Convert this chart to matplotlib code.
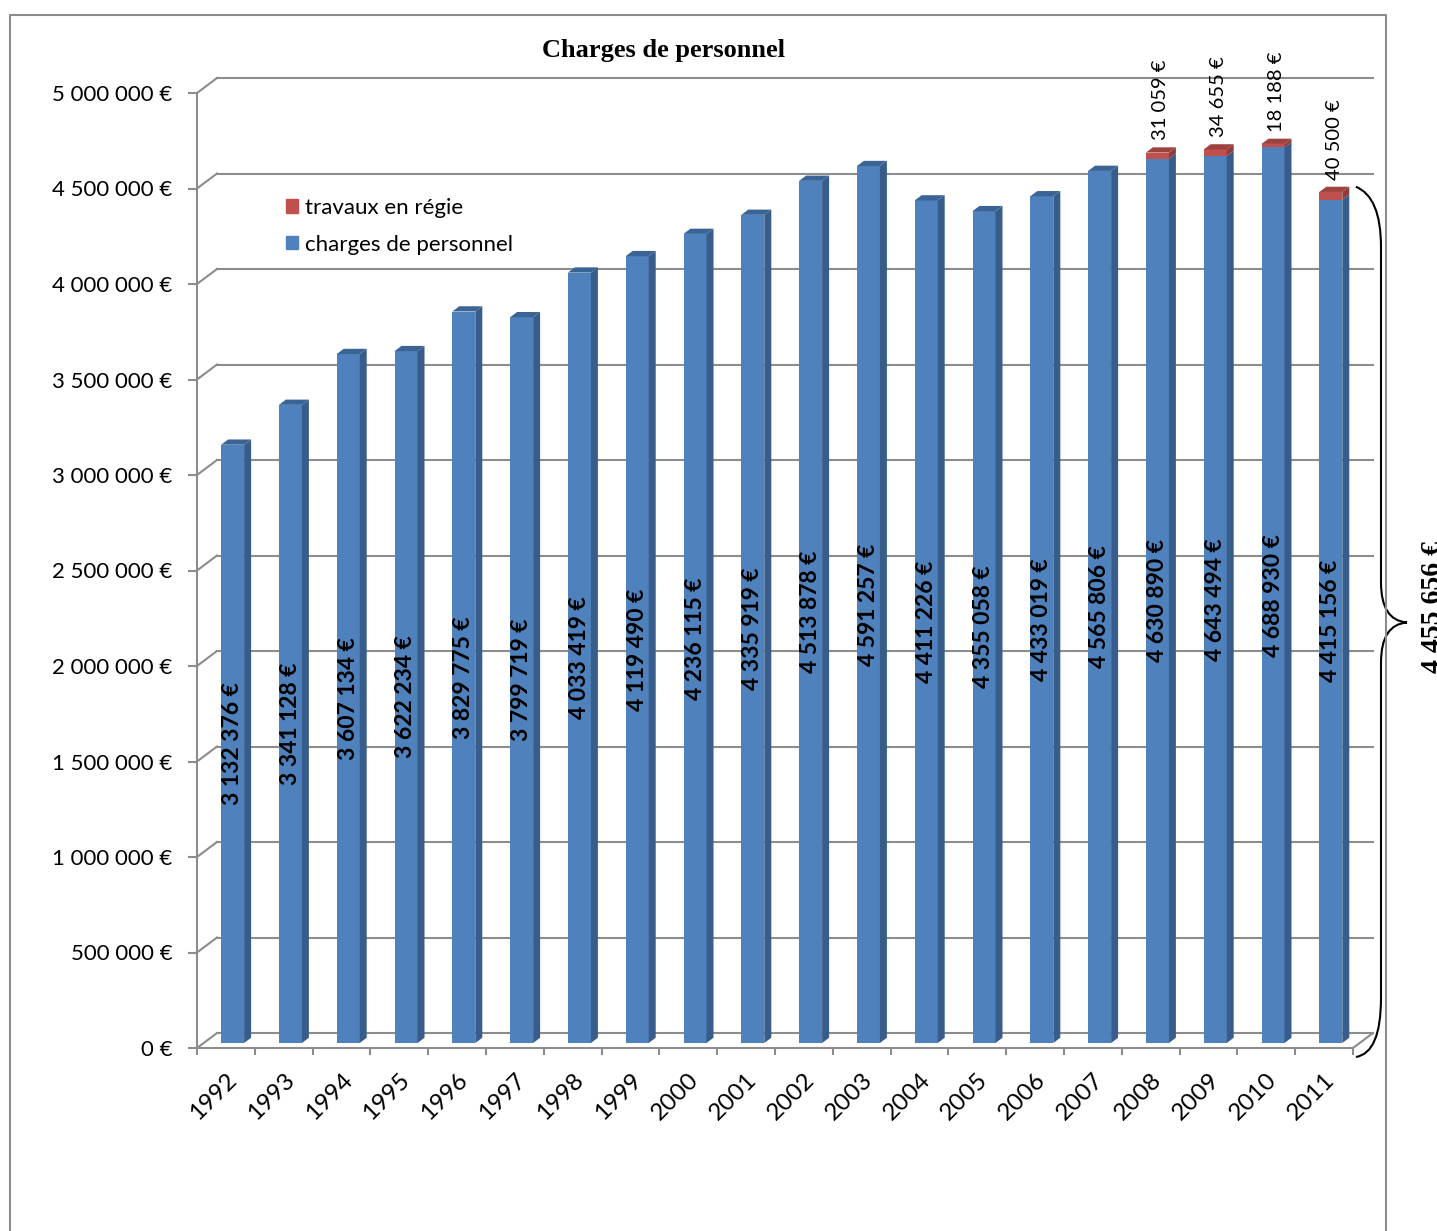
import numpy as np
import matplotlib
matplotlib.use("Agg")
import matplotlib.pyplot as plt
from matplotlib.patches import Polygon, Patch
from matplotlib.path import Path
from matplotlib.patches import PathPatch
from matplotlib.ticker import FuncFormatter

years = ["1992", "1993", "1994", "1995", "1996", "1997", "1998", "1999", "2000", "2001",
         "2002", "2003", "2004", "2005", "2006", "2007", "2008", "2009", "2010", "2011"]
charges = [3132376, 3341128, 3607134, 3622234, 3829775, 3799719, 4033419, 4119490, 4236115, 4335919,
           4513878, 4591257, 4411226, 4355058, 4433019, 4565806, 4630890, 4643494, 4688930, 4415156]
travaux = [0, 0, 0, 0, 0, 0, 0, 0, 0, 0,
           0, 0, 0, 0, 0, 0, 31059, 34655, 18188, 40500]

plt.rcParams['font.family'] = ['Lato', 'DejaVu Sans']

def euro(v):
    return f"{int(v):,}".replace(",", " ") + " €"

W, H = 1437, 1231
fig = plt.figure(figsize=(W / 100, H / 100), dpi=100)
ax = fig.add_axes([197 / W, (H - 1048) / H, 1156 / W, 955 / H])
n = len(years)
ax.set_xlim(-0.5, n - 0.5)
ax.set_ylim(0, 5e6)

# pixel -> data units
ux = n / 1156
uy = 5e6 / 955

grey = '#8c8c8c'
blue, blue_side, blue_top = '#4f81bd', '#385d8a', '#3b6496'
red, red_side, red_top = '#c0504d', '#8f3b39', '#9e4240'

# back wall grid (3d look)
bx, by = 20 * ux, 15 * uy
for v in np.arange(0, 5e6 + 1, 5e5):
    ax.plot([-0.5, -0.5 + bx], [v, v + by], color=grey, lw=1.5, clip_on=False, zorder=1)
    ax.plot([-0.5 + bx, n - 0.5 + bx], [v + by, v + by], color=grey, lw=1.5, clip_on=False, zorder=1)
ax.plot([n - 0.5, n - 0.5 + bx], [0, by], color=grey, lw=1.5, clip_on=False, zorder=1)

# bars
fx, fy = 6.7 * ux, 5 * uy
dx, dy = 7 * ux, 5.25 * uy
bw = 23 * ux
x = np.arange(n)
for i in range(n):
    segs = [(0, charges[i], blue, blue_side, blue_top)]
    if travaux[i] > 0:
        segs.append((charges[i], charges[i] + travaux[i], red, red_side, red_top))
    for k, (b, t, cf, cs, ct) in enumerate(segs):
        ax.bar(x[i] + fx, t - b, bottom=b + fy, width=bw, color=cf, zorder=3, clip_on=False)
        xr = x[i] + fx + bw / 2
        ax.add_patch(Polygon([(xr, b + fy), (xr + dx, b + fy + dy), (xr + dx, t + fy + dy), (xr, t + fy)],
                             closed=True, facecolor=cs, edgecolor='none', zorder=3, clip_on=False))
        if k == len(segs) - 1:
            xl = x[i] + fx - bw / 2
            ax.add_patch(Polygon([(xl, t + fy), (xr, t + fy), (xr + dx, t + fy + dy), (xl + dx, t + fy + dy)],
                                 closed=True, facecolor=ct, edgecolor='none', zorder=3, clip_on=False))
    ax.text(x[i] + fx, (charges[i] + 2 * fy) / 2, euro(charges[i]), rotation=90,
            ha='center', va='center', fontsize=16.5, fontweight='bold', color='black', zorder=5)
    if travaux[i] > 0:
        ax.annotate(euro(travaux[i]), (x[i] + fx + dx / 2, charges[i] + travaux[i] + fy + dy),
                    xytext=(0, 5), textcoords='offset points', rotation=90,
                    ha='center', va='bottom', fontsize=14.5, zorder=5, annotation_clip=False)

# axes styling
for s in ['top', 'right']:
    ax.spines[s].set_visible(False)
for s in ['left', 'bottom']:
    ax.spines[s].set_color(grey)
    ax.spines[s].set_linewidth(1.5)
ax.set_yticks(np.arange(0, 5e6 + 1, 5e5))
ax.yaxis.set_major_formatter(FuncFormatter(lambda v, p: euro(v)))
ax.tick_params(axis='y', length=6.5, width=1.5, color=grey, pad=11, labelsize=16)
ax.set_xticks(np.arange(-0.5, n, 1.0))
ax.set_xticklabels([])
ax.set_xticks(x, minor=True)
ax.set_xticklabels(years, minor=True, rotation=45, ha='right', rotation_mode='anchor', fontsize=17.5)
ax.tick_params(axis='x', which='major', length=5, width=1.5, color=grey)
ax.tick_params(axis='x', which='minor', length=0, pad=15)

# brace for 2011 total
tot = charges[-1] + travaux[-1]
x0 = n - 0.5 + 0.05
x1 = n - 0.5 + 28 * ux
xt = n - 0.5 + 54 * ux
ym = tot / 2
verts = [(x0, tot + fy + dy), (x1, tot), (x1, tot - 50 * uy),
         (x1, ym + 40 * uy), (x1, ym + 2 * uy), (xt, ym),
         (x1, ym - 2 * uy), (x1, ym - 40 * uy),
         (x1, 50 * uy), (x1, -5 * uy), (x0, -9 * uy)]
codes = [Path.MOVETO, Path.CURVE3, Path.CURVE3, Path.LINETO, Path.CURVE3, Path.CURVE3,
         Path.CURVE3, Path.CURVE3, Path.LINETO, Path.CURVE3, Path.CURVE3]
ax.add_patch(PathPatch(Path(verts, codes), facecolor='none', edgecolor='black', lw=1.5,
                       clip_on=False, zorder=4))
ax.text(n - 0.5 + 80 * ux, ym + 15 * uy, euro(tot), rotation=90, ha='center', va='center',
        fontsize=20, fontweight='bold', family='Liberation Serif', clip_on=False)

# legend
handles = [Patch(color=red, label='travaux en régie'), Patch(color=blue, label='charges de personnel')]
fig.legend(handles=handles, loc='upper left', bbox_to_anchor=(277 / W, 1 - 189 / H), frameon=False,
           fontsize=16, handlelength=0.55, handleheight=0.55, handletextpad=0.3, labelspacing=0.75,
           borderaxespad=0)

fig.text(663 / W, 1 - 50 / H, 'Charges de personnel', ha='center', va='center',
         fontsize=19, fontweight='bold', family='Liberation Serif')

# outer frame
fig.add_artist(plt.Line2D([10 / W, 10 / W, 1386 / W, 1386 / W], [0, 1 - 15 / H, 1 - 15 / H, 0],
                          transform=fig.transFigure, color=grey, lw=1.5))

fig.savefig('out.png', dpi=100)
